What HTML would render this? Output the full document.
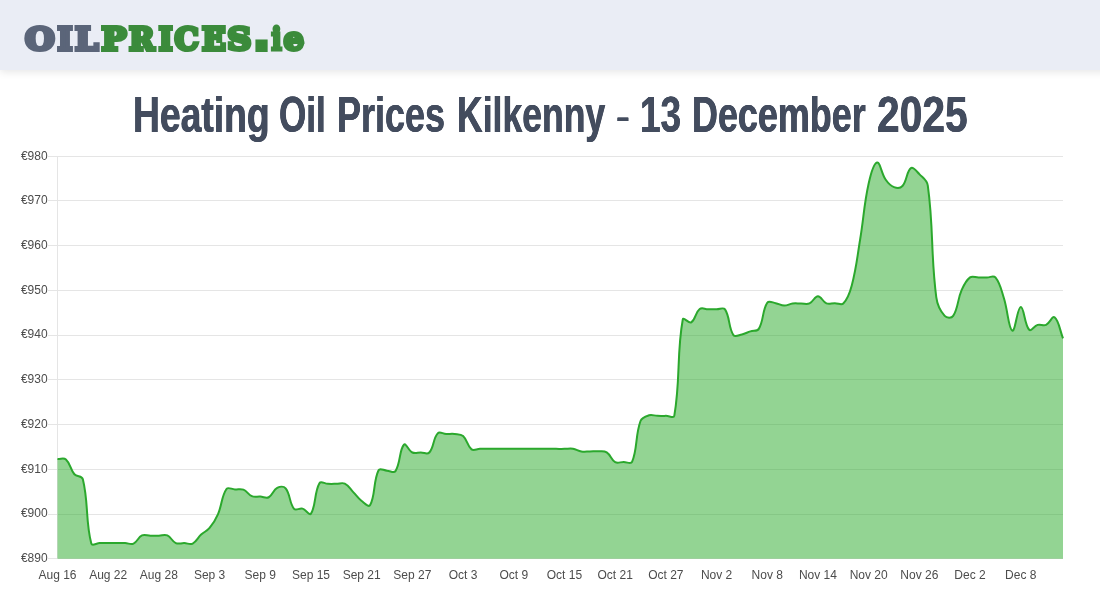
<!DOCTYPE html>
<html lang="en">
<head>
<meta charset="utf-8">
<title>Heating Oil Prices Kilkenny - 13 December 2025</title>
<style>
html,body{margin:0;padding:0;background:#fff;}
body{width:1100px;height:600px;overflow:hidden;position:relative;font-family:"Liberation Sans",sans-serif;}
.header{position:absolute;left:0;top:0;width:1140px;height:70px;background:#eaedf5;box-shadow:0 2px 8px rgba(0,0,0,0.10);}
svg.logo{position:absolute;left:0;top:0;}
h1{position:absolute;left:0;top:75px;width:1100px;height:80px;margin:0;font-family:"Liberation Sans",sans-serif;font-weight:bold;font-size:49.6px;line-height:80px;color:#434c5e;white-space:nowrap;}
h1 span{position:absolute;top:0;display:block;transform-origin:0 0;text-shadow:0.4px 0 0 #434c5e,-0.4px 0 0 #434c5e;}
svg.chart{position:absolute;left:0;top:0;}
svg.chart text{font-family:"Liberation Sans",sans-serif;font-size:12px;fill:#4c4c4c;}
svg.chart .grid line{stroke:#e5e5e5;stroke-width:1;}
</style>
</head>
<body>
<div class="header"></div>
<svg class="logo" width="330" height="70" viewBox="0 0 330 70">
<g font-family="DejaVu Serif, Liberation Serif, serif" font-weight="bold" font-size="32.3" stroke-width="4" stroke-linejoin="miter" stroke-miterlimit="3">
<text y="49.6" fill="#5b6579" stroke="#5b6579"><tspan x="25.04" textLength="29.67" lengthAdjust="spacingAndGlyphs">O</tspan><tspan x="57.49" textLength="14.92" lengthAdjust="spacingAndGlyphs">I</tspan><tspan x="74.91" textLength="23.37" lengthAdjust="spacingAndGlyphs">L</tspan></text>
<text y="49.6" fill="#3b8b3b" stroke="#3b8b3b"><tspan x="101.41" textLength="24.95" lengthAdjust="spacingAndGlyphs">P</tspan><tspan x="129.02" textLength="25.48" lengthAdjust="spacingAndGlyphs">R</tspan><tspan x="158.66" textLength="13.79" lengthAdjust="spacingAndGlyphs">I</tspan><tspan x="174.51" textLength="24.23" lengthAdjust="spacingAndGlyphs">C</tspan><tspan x="201.88" textLength="23.76" lengthAdjust="spacingAndGlyphs">E</tspan><tspan x="227.33" textLength="24.12" lengthAdjust="spacingAndGlyphs">S</tspan><tspan x="253.4" y="50.1" font-family="Liberation Sans, sans-serif" font-size="58" stroke-width="4">.</tspan><tspan y="49.6" stroke-width="3" x="271.21" textLength="10.59" lengthAdjust="spacingAndGlyphs">i</tspan><tspan stroke-width="4" x="283.63" textLength="20.14" lengthAdjust="spacingAndGlyphs">e</tspan></text>
</g>
</svg>
<h1><span style="left:132.65px;transform:scaleX(0.7514)">Heating</span> <span style="left:278.59px;transform:scaleX(0.7066)">Oil</span> <span style="left:336.92px;transform:scaleX(0.7257)">Prices</span> <span style="left:456.55px;transform:scaleX(0.7167)">Kilkenny</span> <span style="left:615.62px;transform:translateY(1.3px) scale(0.8385,0.55);transform-origin:0 44px">-</span> <span style="left:639.56px;transform:scaleX(0.7460)">13</span> <span style="left:691.83px;transform:scaleX(0.7242)">December</span> <span style="left:876.86px;transform:scaleX(0.8215)">2025</span></h1>
<svg class="chart" width="1100" height="600" viewBox="0 0 1100 600">
<g class="grid"><line x1="48" x2="1063" y1="156.5" y2="156.5"/><line x1="48" x2="1063" y1="200.5" y2="200.5"/><line x1="48" x2="1063" y1="245.5" y2="245.5"/><line x1="48" x2="1063" y1="290.5" y2="290.5"/><line x1="48" x2="1063" y1="335.5" y2="335.5"/><line x1="48" x2="1063" y1="379.5" y2="379.5"/><line x1="48" x2="1063" y1="424.5" y2="424.5"/><line x1="48" x2="1063" y1="469.5" y2="469.5"/><line x1="48" x2="1063" y1="514.5" y2="514.5"/><line x1="48" x2="1063" y1="558.5" y2="558.5"/><line x1="57.5" x2="57.5" y1="156" y2="559"/></g>
<path d="M57.50 459.02C60.88 459.20 63.70 457.45 65.95 459.47C70.46 463.53 70.11 469.23 74.40 474.23C76.87 477.10 81.96 475.52 82.85 479.14C88.72 503.21 85.32 520.82 91.30 543.46C92.08 546.41 96.37 543.17 99.75 543.10C103.13 543.03 104.82 543.10 108.20 543.10C111.58 543.10 113.27 543.10 116.65 543.10C120.03 543.10 121.72 543.01 125.10 543.10C128.48 543.19 130.71 544.83 133.55 543.54C137.47 541.76 138.07 537.21 142.00 535.40C144.83 534.10 147.06 535.72 150.45 535.76C153.82 535.81 155.52 535.70 158.89 535.63C162.28 535.56 164.47 534.13 167.34 535.40C171.23 537.12 171.91 541.33 175.79 543.10C178.67 544.41 180.87 543.01 184.24 543.10C187.63 543.19 189.94 544.93 192.69 543.54C196.70 541.53 197.54 537.94 201.14 534.60C204.30 531.67 206.89 531.18 209.59 527.89C213.65 522.95 215.47 519.95 218.04 514.03C222.23 504.39 221.37 496.44 226.49 488.98C228.13 486.60 231.56 489.30 234.94 489.43C238.32 489.56 240.40 488.47 243.39 489.65C247.16 491.15 248.07 494.59 251.84 496.14C254.83 497.37 256.91 496.36 260.29 496.59C263.67 496.81 266.03 498.66 268.74 497.26C272.78 495.17 273.14 490.01 277.19 487.87C279.90 486.43 283.78 486.00 285.64 488.31C290.54 494.40 289.19 502.99 294.09 508.88C295.95 511.13 299.40 507.79 302.54 508.66C306.16 509.67 309.39 515.99 310.99 513.58C316.15 505.80 314.11 492.55 319.44 483.17C320.87 480.65 324.50 483.71 327.89 483.84C331.26 483.97 332.96 483.88 336.34 483.84C339.72 483.80 341.99 482.25 344.79 483.62C348.75 485.56 349.90 488.67 353.24 492.11C356.66 495.65 357.85 498.11 361.68 501.06C364.61 503.30 368.74 507.64 370.13 505.08C375.50 495.29 373.11 481.35 378.58 470.20C379.87 467.57 383.65 470.47 387.03 470.65C390.41 470.83 393.90 473.52 395.48 471.09C400.66 463.15 399.16 449.95 403.93 444.71C405.92 442.53 408.48 450.73 412.38 452.53C415.24 453.86 417.45 452.53 420.83 452.53C424.21 452.53 427.34 454.74 429.28 452.53C434.10 447.05 432.91 438.59 437.73 433.30C439.67 431.17 442.80 433.84 446.18 433.98C449.56 434.11 451.30 433.58 454.63 433.98C458.06 434.38 460.69 433.80 463.08 435.99C467.45 439.97 467.12 446.05 471.53 449.40C473.88 451.20 476.60 448.97 479.98 448.87C483.36 448.76 485.05 448.87 488.43 448.87C491.81 448.87 493.50 448.87 496.88 448.87C500.26 448.87 501.95 448.87 505.33 448.87C508.71 448.87 510.40 448.87 513.78 448.87C517.16 448.87 518.85 448.87 522.23 448.87C525.61 448.87 527.30 448.87 530.68 448.87C534.06 448.87 535.75 448.87 539.13 448.87C542.51 448.87 544.20 448.87 547.58 448.87C550.96 448.87 552.65 448.87 556.03 448.87C559.41 448.87 561.10 448.90 564.47 448.87C567.86 448.83 569.63 448.19 572.92 448.69C576.39 449.21 577.91 450.86 581.37 451.42C584.67 451.95 586.44 451.46 589.82 451.42C593.20 451.37 594.91 451.01 598.27 451.19C601.67 451.37 604.04 450.57 606.72 452.31C610.80 454.96 611.08 459.82 615.17 462.15C617.84 463.67 620.24 461.97 623.62 461.93C627.00 461.88 630.93 464.68 632.07 461.93C637.69 448.31 635.09 435.99 640.52 421.01C641.85 417.35 645.28 416.45 648.97 415.33C652.04 414.39 654.04 415.76 657.42 415.86C660.80 415.97 662.49 415.91 665.87 415.86C669.25 415.82 673.78 418.74 674.32 415.64C680.53 380.19 676.58 353.62 682.77 319.49C683.34 316.33 688.78 323.91 691.22 322.39C695.54 319.70 695.26 312.42 699.67 308.98C702.02 307.14 704.74 309.16 708.12 309.20C711.50 309.24 713.19 309.16 716.57 309.20C719.95 309.24 723.41 306.95 725.02 309.42C730.17 317.33 728.32 327.51 733.47 335.14C735.08 337.53 738.64 335.21 741.92 334.47C745.40 333.68 746.95 332.47 750.37 331.34C753.71 330.23 757.18 331.65 758.82 328.88C763.94 320.20 762.10 310.58 767.26 302.72C768.86 300.29 772.40 302.59 775.71 303.16C779.16 303.76 780.77 305.55 784.16 305.62C787.53 305.69 789.18 303.95 792.61 303.52C795.94 303.11 797.68 303.55 801.06 303.52C804.44 303.49 806.59 304.65 809.51 303.39C813.35 301.73 814.58 296.23 817.96 296.23C821.34 296.23 822.58 301.81 826.41 303.39C829.34 304.59 831.48 303.14 834.86 303.16C838.24 303.19 841.30 305.63 843.31 303.52C848.05 298.56 849.76 293.15 851.76 285.50C856.52 267.33 857.12 257.64 860.21 238.99C863.88 216.85 863.84 205.32 868.66 183.53C870.60 174.73 873.43 163.39 877.11 162.51C880.19 161.78 881.33 173.35 885.56 179.51C888.09 183.19 890.15 185.63 894.01 187.11C896.91 188.22 900.42 188.28 902.46 185.99C907.18 180.68 906.47 171.21 910.91 168.10C913.23 166.47 916.50 171.19 919.36 174.14C923.26 178.17 927.05 180.01 927.81 185.54C933.81 229.20 930.55 253.08 936.26 297.12C937.31 305.23 939.91 310.58 944.71 315.91C946.67 318.09 951.55 318.36 953.16 315.91C958.31 308.07 957.29 300.03 961.61 290.19C964.05 284.61 965.69 280.65 970.05 277.36C972.45 275.55 975.12 277.43 978.50 277.45C981.88 277.47 983.57 277.45 986.95 277.45C990.33 277.45 993.54 275.18 995.40 277.45C1000.30 283.41 1001.17 289.56 1003.85 298.02C1007.93 310.85 1008.43 328.62 1012.30 330.67C1015.19 332.20 1017.31 307.15 1020.75 306.96C1024.07 306.79 1024.38 324.67 1029.20 329.77C1031.14 331.82 1034.03 325.91 1037.65 324.85C1040.78 323.94 1043.22 326.15 1046.10 324.85C1049.98 323.11 1052.29 315.46 1054.55 317.25C1059.05 320.82 1059.62 329.86 1063.00 338.27L1063.00 558.75L57.50 558.75Z" fill="rgba(40,170,40,0.5)" stroke="none"/>
<path d="M57.50 459.02C60.88 459.20 63.70 457.45 65.95 459.47C70.46 463.53 70.11 469.23 74.40 474.23C76.87 477.10 81.96 475.52 82.85 479.14C88.72 503.21 85.32 520.82 91.30 543.46C92.08 546.41 96.37 543.17 99.75 543.10C103.13 543.03 104.82 543.10 108.20 543.10C111.58 543.10 113.27 543.10 116.65 543.10C120.03 543.10 121.72 543.01 125.10 543.10C128.48 543.19 130.71 544.83 133.55 543.54C137.47 541.76 138.07 537.21 142.00 535.40C144.83 534.10 147.06 535.72 150.45 535.76C153.82 535.81 155.52 535.70 158.89 535.63C162.28 535.56 164.47 534.13 167.34 535.40C171.23 537.12 171.91 541.33 175.79 543.10C178.67 544.41 180.87 543.01 184.24 543.10C187.63 543.19 189.94 544.93 192.69 543.54C196.70 541.53 197.54 537.94 201.14 534.60C204.30 531.67 206.89 531.18 209.59 527.89C213.65 522.95 215.47 519.95 218.04 514.03C222.23 504.39 221.37 496.44 226.49 488.98C228.13 486.60 231.56 489.30 234.94 489.43C238.32 489.56 240.40 488.47 243.39 489.65C247.16 491.15 248.07 494.59 251.84 496.14C254.83 497.37 256.91 496.36 260.29 496.59C263.67 496.81 266.03 498.66 268.74 497.26C272.78 495.17 273.14 490.01 277.19 487.87C279.90 486.43 283.78 486.00 285.64 488.31C290.54 494.40 289.19 502.99 294.09 508.88C295.95 511.13 299.40 507.79 302.54 508.66C306.16 509.67 309.39 515.99 310.99 513.58C316.15 505.80 314.11 492.55 319.44 483.17C320.87 480.65 324.50 483.71 327.89 483.84C331.26 483.97 332.96 483.88 336.34 483.84C339.72 483.80 341.99 482.25 344.79 483.62C348.75 485.56 349.90 488.67 353.24 492.11C356.66 495.65 357.85 498.11 361.68 501.06C364.61 503.30 368.74 507.64 370.13 505.08C375.50 495.29 373.11 481.35 378.58 470.20C379.87 467.57 383.65 470.47 387.03 470.65C390.41 470.83 393.90 473.52 395.48 471.09C400.66 463.15 399.16 449.95 403.93 444.71C405.92 442.53 408.48 450.73 412.38 452.53C415.24 453.86 417.45 452.53 420.83 452.53C424.21 452.53 427.34 454.74 429.28 452.53C434.10 447.05 432.91 438.59 437.73 433.30C439.67 431.17 442.80 433.84 446.18 433.98C449.56 434.11 451.30 433.58 454.63 433.98C458.06 434.38 460.69 433.80 463.08 435.99C467.45 439.97 467.12 446.05 471.53 449.40C473.88 451.20 476.60 448.97 479.98 448.87C483.36 448.76 485.05 448.87 488.43 448.87C491.81 448.87 493.50 448.87 496.88 448.87C500.26 448.87 501.95 448.87 505.33 448.87C508.71 448.87 510.40 448.87 513.78 448.87C517.16 448.87 518.85 448.87 522.23 448.87C525.61 448.87 527.30 448.87 530.68 448.87C534.06 448.87 535.75 448.87 539.13 448.87C542.51 448.87 544.20 448.87 547.58 448.87C550.96 448.87 552.65 448.87 556.03 448.87C559.41 448.87 561.10 448.90 564.47 448.87C567.86 448.83 569.63 448.19 572.92 448.69C576.39 449.21 577.91 450.86 581.37 451.42C584.67 451.95 586.44 451.46 589.82 451.42C593.20 451.37 594.91 451.01 598.27 451.19C601.67 451.37 604.04 450.57 606.72 452.31C610.80 454.96 611.08 459.82 615.17 462.15C617.84 463.67 620.24 461.97 623.62 461.93C627.00 461.88 630.93 464.68 632.07 461.93C637.69 448.31 635.09 435.99 640.52 421.01C641.85 417.35 645.28 416.45 648.97 415.33C652.04 414.39 654.04 415.76 657.42 415.86C660.80 415.97 662.49 415.91 665.87 415.86C669.25 415.82 673.78 418.74 674.32 415.64C680.53 380.19 676.58 353.62 682.77 319.49C683.34 316.33 688.78 323.91 691.22 322.39C695.54 319.70 695.26 312.42 699.67 308.98C702.02 307.14 704.74 309.16 708.12 309.20C711.50 309.24 713.19 309.16 716.57 309.20C719.95 309.24 723.41 306.95 725.02 309.42C730.17 317.33 728.32 327.51 733.47 335.14C735.08 337.53 738.64 335.21 741.92 334.47C745.40 333.68 746.95 332.47 750.37 331.34C753.71 330.23 757.18 331.65 758.82 328.88C763.94 320.20 762.10 310.58 767.26 302.72C768.86 300.29 772.40 302.59 775.71 303.16C779.16 303.76 780.77 305.55 784.16 305.62C787.53 305.69 789.18 303.95 792.61 303.52C795.94 303.11 797.68 303.55 801.06 303.52C804.44 303.49 806.59 304.65 809.51 303.39C813.35 301.73 814.58 296.23 817.96 296.23C821.34 296.23 822.58 301.81 826.41 303.39C829.34 304.59 831.48 303.14 834.86 303.16C838.24 303.19 841.30 305.63 843.31 303.52C848.05 298.56 849.76 293.15 851.76 285.50C856.52 267.33 857.12 257.64 860.21 238.99C863.88 216.85 863.84 205.32 868.66 183.53C870.60 174.73 873.43 163.39 877.11 162.51C880.19 161.78 881.33 173.35 885.56 179.51C888.09 183.19 890.15 185.63 894.01 187.11C896.91 188.22 900.42 188.28 902.46 185.99C907.18 180.68 906.47 171.21 910.91 168.10C913.23 166.47 916.50 171.19 919.36 174.14C923.26 178.17 927.05 180.01 927.81 185.54C933.81 229.20 930.55 253.08 936.26 297.12C937.31 305.23 939.91 310.58 944.71 315.91C946.67 318.09 951.55 318.36 953.16 315.91C958.31 308.07 957.29 300.03 961.61 290.19C964.05 284.61 965.69 280.65 970.05 277.36C972.45 275.55 975.12 277.43 978.50 277.45C981.88 277.47 983.57 277.45 986.95 277.45C990.33 277.45 993.54 275.18 995.40 277.45C1000.30 283.41 1001.17 289.56 1003.85 298.02C1007.93 310.85 1008.43 328.62 1012.30 330.67C1015.19 332.20 1017.31 307.15 1020.75 306.96C1024.07 306.79 1024.38 324.67 1029.20 329.77C1031.14 331.82 1034.03 325.91 1037.65 324.85C1040.78 323.94 1043.22 326.15 1046.10 324.85C1049.98 323.11 1052.29 315.46 1054.55 317.25C1059.05 320.82 1059.62 329.86 1063.00 338.27" fill="none" stroke="#2ba82d" stroke-width="2" stroke-linejoin="round" stroke-linecap="butt"/>
<g class="ylab"><text x="47.6" y="159.60" text-anchor="end">€980</text><text x="47.6" y="204.32" text-anchor="end">€970</text><text x="47.6" y="249.04" text-anchor="end">€960</text><text x="47.6" y="293.77" text-anchor="end">€950</text><text x="47.6" y="338.49" text-anchor="end">€940</text><text x="47.6" y="383.21" text-anchor="end">€930</text><text x="47.6" y="427.93" text-anchor="end">€920</text><text x="47.6" y="472.66" text-anchor="end">€910</text><text x="47.6" y="517.38" text-anchor="end">€900</text><text x="47.6" y="562.10" text-anchor="end">€890</text></g>
<g class="xlab"><text x="57.50" y="579" text-anchor="middle">Aug 16</text><text x="108.20" y="579" text-anchor="middle">Aug 22</text><text x="158.89" y="579" text-anchor="middle">Aug 28</text><text x="209.59" y="579" text-anchor="middle">Sep 3</text><text x="260.29" y="579" text-anchor="middle">Sep 9</text><text x="310.99" y="579" text-anchor="middle">Sep 15</text><text x="361.68" y="579" text-anchor="middle">Sep 21</text><text x="412.38" y="579" text-anchor="middle">Sep 27</text><text x="463.08" y="579" text-anchor="middle">Oct 3</text><text x="513.78" y="579" text-anchor="middle">Oct 9</text><text x="564.47" y="579" text-anchor="middle">Oct 15</text><text x="615.17" y="579" text-anchor="middle">Oct 21</text><text x="665.87" y="579" text-anchor="middle">Oct 27</text><text x="716.57" y="579" text-anchor="middle">Nov 2</text><text x="767.26" y="579" text-anchor="middle">Nov 8</text><text x="817.96" y="579" text-anchor="middle">Nov 14</text><text x="868.66" y="579" text-anchor="middle">Nov 20</text><text x="919.36" y="579" text-anchor="middle">Nov 26</text><text x="970.05" y="579" text-anchor="middle">Dec 2</text><text x="1020.75" y="579" text-anchor="middle">Dec 8</text></g>
</svg>
</body>
</html>
